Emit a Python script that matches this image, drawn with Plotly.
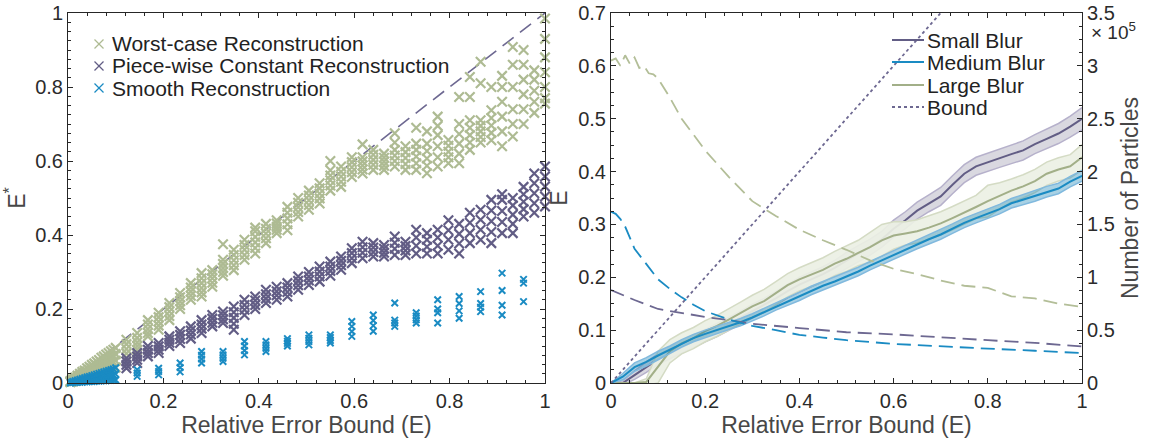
import plotly.graph_objects as go

# ---------------- Left panel data: E* scatter ----------------
dense_x = [0.005, 0.01, 0.015, 0.02, 0.025, 0.03, 0.035, 0.04, 0.045, 0.05,
           0.055, 0.06, 0.065, 0.07, 0.075, 0.08, 0.085, 0.09, 0.095, 0.1]
worst_dense_y = [
    [0.002, 0.004, 0.005], [0.004, 0.007, 0.01], [0.006, 0.009, 0.012, 0.015],
    [0.008, 0.012, 0.016, 0.02], [0.01, 0.015, 0.02, 0.025], [0.012, 0.018, 0.024, 0.03],
    [0.014, 0.021, 0.028, 0.034], [0.017, 0.025, 0.032, 0.04], [0.019, 0.027, 0.036, 0.044],
    [0.021, 0.03, 0.04, 0.049], [0.023, 0.033, 0.043, 0.053], [0.025, 0.036, 0.047, 0.058],
    [0.027, 0.039, 0.051, 0.062], [0.03, 0.042, 0.055, 0.068], [0.032, 0.045, 0.058, 0.072],
    [0.034, 0.048, 0.062, 0.077], [0.036, 0.051, 0.066, 0.081], [0.038, 0.054, 0.07, 0.086],
    [0.04, 0.057, 0.074, 0.09], [0.042, 0.06, 0.078, 0.095]]
smooth_dense_y = [
    [0.0, 0.002], [0.001, 0.004], [0.001, 0.004, 0.006], [0.002, 0.005, 0.008],
    [0.002, 0.006, 0.01], [0.002, 0.007, 0.012], [0.003, 0.008, 0.014], [0.003, 0.01, 0.016],
    [0.004, 0.011, 0.018], [0.004, 0.012, 0.02], [0.004, 0.013, 0.022], [0.005, 0.014, 0.024],
    [0.005, 0.016, 0.026], [0.006, 0.017, 0.028], [0.006, 0.018, 0.03], [0.006, 0.019, 0.032],
    [0.007, 0.02, 0.034], [0.007, 0.021, 0.036], [0.008, 0.022, 0.038], [0.008, 0.024, 0.041]]

cols_x = [0.1225, 0.145, 0.1675, 0.19, 0.2125, 0.235, 0.2575, 0.28, 0.3025, 0.325,
          0.3475, 0.37, 0.3925, 0.415, 0.4375, 0.46, 0.4825, 0.505, 0.5275, 0.55,
          0.5725, 0.595, 0.6175, 0.64, 0.6625, 0.685, 0.7075, 0.73, 0.7525, 0.775,
          0.7975, 0.82, 0.8425, 0.865, 0.8875, 0.91, 0.9325, 0.955, 0.9775, 1.0]
worst_y = [
    [0.068, 0.08, 0.092, 0.105, 0.117], [0.09, 0.1, 0.11, 0.122, 0.135],
    [0.126, 0.135, 0.146, 0.158, 0.17], [0.144, 0.155, 0.166, 0.178, 0.19],
    [0.17, 0.181, 0.193, 0.205, 0.216], [0.2, 0.21, 0.221, 0.232, 0.243],
    [0.225, 0.236, 0.247, 0.258, 0.27], [0.234, 0.245, 0.257, 0.27, 0.283, 0.297],
    [0.26, 0.271, 0.283, 0.294, 0.305], [0.29, 0.3, 0.311, 0.322, 0.333, 0.375],
    [0.305, 0.318, 0.332, 0.346, 0.36], [0.333, 0.346, 0.36, 0.373, 0.387],
    [0.35, 0.365, 0.38, 0.395, 0.41, 0.42], [0.378, 0.391, 0.404, 0.417, 0.43],
    [0.405, 0.414, 0.422, 0.431, 0.44], [0.413, 0.429, 0.445, 0.46, 0.476],
    [0.45, 0.462, 0.475, 0.487, 0.5], [0.468, 0.481, 0.494, 0.507, 0.52],
    [0.485, 0.499, 0.512, 0.526, 0.54], [0.52, 0.534, 0.548, 0.561, 0.575, 0.6],
    [0.53, 0.544, 0.558, 0.571, 0.585], [0.557, 0.57, 0.583, 0.597, 0.61],
    [0.566, 0.577, 0.588, 0.599, 0.61, 0.645], [0.576, 0.59, 0.603, 0.617, 0.63],
    [0.576, 0.587, 0.598, 0.609, 0.62], [0.585, 0.6, 0.615, 0.63, 0.65, 0.675],
    [0.576, 0.592, 0.608, 0.624, 0.64], [0.576, 0.594, 0.612, 0.63, 0.647, 0.69],
    [0.567, 0.587, 0.607, 0.627, 0.647, 0.68], [0.585, 0.61, 0.64, 0.67, 0.695, 0.72],
    [0.594, 0.61, 0.625, 0.641, 0.657], [0.594, 0.62, 0.647, 0.673, 0.7, 0.773],
    [0.63, 0.65, 0.67, 0.69, 0.71, 0.773, 0.827], [0.65, 0.665, 0.68, 0.695, 0.71, 0.81, 0.868],
    [0.656, 0.676, 0.696, 0.716, 0.737, 0.8], [0.64, 0.68, 0.72, 0.76, 0.8, 0.83],
    [0.666, 0.7, 0.74, 0.8, 0.86, 0.908], [0.7, 0.74, 0.78, 0.82, 0.86, 0.9],
    [0.73, 0.76, 0.79, 0.82, 0.845], [0.755, 0.77, 0.8, 0.84, 0.88, 0.93, 0.985]]
piecewise_y = [
    [0.04, 0.049, 0.058, 0.067], [0.054, 0.063, 0.072, 0.081], [0.072, 0.081, 0.09, 0.1],
    [0.081, 0.09, 0.099, 0.108], [0.1, 0.109, 0.117, 0.126], [0.108, 0.119, 0.13, 0.14],
    [0.12, 0.131, 0.142, 0.153], [0.135, 0.147, 0.158, 0.17], [0.153, 0.163, 0.174, 0.184],
    [0.162, 0.172, 0.183, 0.193], [0.144, 0.16, 0.176, 0.191, 0.207], [0.184, 0.198, 0.211, 0.225],
    [0.2, 0.211, 0.223, 0.234], [0.216, 0.228, 0.24, 0.252], [0.225, 0.237, 0.248, 0.26],
    [0.234, 0.246, 0.258, 0.27], [0.252, 0.264, 0.276, 0.288], [0.265, 0.277, 0.288, 0.3],
    [0.274, 0.288, 0.301, 0.315], [0.29, 0.303, 0.315, 0.328], [0.306, 0.318, 0.33, 0.342],
    [0.324, 0.337, 0.351, 0.364], [0.337, 0.352, 0.367, 0.382], [0.342, 0.354, 0.366, 0.378],
    [0.342, 0.352, 0.363, 0.373], [0.346, 0.363, 0.379, 0.396], [0.346, 0.358, 0.37, 0.382],
    [0.35, 0.371, 0.393, 0.414], [0.35, 0.368, 0.387, 0.405], [0.35, 0.371, 0.393, 0.414],
    [0.36, 0.387, 0.413, 0.44], [0.35, 0.377, 0.403, 0.43], [0.378, 0.405, 0.433, 0.46],
    [0.387, 0.414, 0.441, 0.468], [0.378, 0.408, 0.437, 0.466, 0.495],
    [0.405, 0.435, 0.465, 0.495, 0.51], [0.405, 0.43, 0.455, 0.48, 0.5],
    [0.45, 0.47, 0.49, 0.51, 0.53], [0.46, 0.486, 0.513, 0.54, 0.566],
    [0.477, 0.504, 0.531, 0.558, 0.585]]
smooth_x = [0.145, 0.19, 0.235, 0.28, 0.325, 0.37, 0.415, 0.46, 0.505, 0.55,
            0.595, 0.64, 0.685, 0.73, 0.775, 0.82, 0.865, 0.91, 0.955]
smooth_y = [
    [0.018, 0.027, 0.036], [0.022, 0.031, 0.04], [0.03, 0.042, 0.054],
    [0.054, 0.065, 0.075, 0.085], [0.058, 0.067, 0.076, 0.085], [0.076, 0.088, 0.1, 0.112],
    [0.085, 0.094, 0.103, 0.112], [0.1, 0.107, 0.113, 0.12], [0.103, 0.112, 0.121, 0.13],
    [0.108, 0.115, 0.123, 0.13], [0.126, 0.139, 0.153, 0.166], [0.14, 0.155, 0.169, 0.184],
    [0.153, 0.162, 0.17, 0.216], [0.162, 0.171, 0.181, 0.19], [0.162, 0.19, 0.2, 0.225],
    [0.175, 0.195, 0.215, 0.234], [0.193, 0.205, 0.215, 0.247], [0.184, 0.21, 0.25, 0.297],
    [0.22, 0.27, 0.28]]
ref_line_x = [0, 1]
ref_line_y = [0, 1]
left_legend_labels = ["Worst-case Reconstruction", "Piece-wise Constant Reconstruction",
                      "Smooth Reconstruction"]

# ---------------- Right panel data ----------------
blur_x = [0.0, 0.025, 0.05, 0.075, 0.1, 0.125, 0.15, 0.175, 0.2, 0.225, 0.25, 0.275,
          0.3, 0.325, 0.35, 0.375, 0.4, 0.425, 0.45, 0.475, 0.5, 0.525, 0.55, 0.575,
          0.6, 0.625, 0.65, 0.675, 0.7, 0.725, 0.75, 0.775, 0.8, 0.825, 0.85, 0.875,
          0.9, 0.925, 0.95, 0.975, 1.0]
small_mean = [0.0, 0.0, 0.015, 0.03, 0.045, 0.056, 0.068, 0.079, 0.09, 0.1, 0.112, 0.124,
              0.136, 0.147, 0.16, 0.174, 0.186, 0.196, 0.206, 0.218, 0.232, 0.245, 0.257, 0.272,
              0.292, 0.308, 0.326, 0.34, 0.353, 0.375, 0.396, 0.41, 0.418, 0.425, 0.433, 0.44,
              0.452, 0.462, 0.472, 0.485, 0.5]
small_hw = [0.0, 0.004, 0.008, 0.01, 0.01, 0.01, 0.011, 0.011, 0.012, 0.012, 0.012, 0.012,
            0.013, 0.013, 0.013, 0.013, 0.014, 0.014, 0.014, 0.014, 0.015, 0.015, 0.015, 0.015,
            0.016, 0.016, 0.016, 0.016, 0.017, 0.017, 0.017, 0.017, 0.017, 0.017, 0.018, 0.018,
            0.018, 0.018, 0.019, 0.02, 0.021]
medium_mean = [0.0, 0.012, 0.03, 0.04, 0.052, 0.063, 0.075, 0.085, 0.093, 0.1, 0.108, 0.115,
               0.124, 0.134, 0.145, 0.154, 0.164, 0.175, 0.184, 0.192, 0.201, 0.211, 0.222, 0.232,
               0.243, 0.253, 0.262, 0.272, 0.281, 0.292, 0.303, 0.312, 0.32, 0.329, 0.34, 0.347,
               0.354, 0.362, 0.368, 0.381, 0.392]
medium_hw = [0.0, 0.006, 0.008, 0.008, 0.008, 0.007, 0.007, 0.007, 0.007, 0.007, 0.007, 0.007,
             0.007, 0.007, 0.007, 0.007, 0.008, 0.008, 0.008, 0.008, 0.008, 0.008, 0.008, 0.008,
             0.008, 0.008, 0.008, 0.009, 0.009, 0.009, 0.009, 0.009, 0.009, 0.009, 0.009, 0.01,
             0.01, 0.01, 0.01, 0.01, 0.01]
large_mean = [0.0, 0.0, 0.0, 0.002, 0.03, 0.06, 0.075, 0.085, 0.098, 0.108, 0.12, 0.132,
              0.145, 0.155, 0.17, 0.185, 0.196, 0.205, 0.214, 0.226, 0.235, 0.246, 0.257, 0.27,
              0.279, 0.283, 0.287, 0.294, 0.302, 0.312, 0.322, 0.333, 0.344, 0.354, 0.364, 0.372,
              0.382, 0.396, 0.404, 0.41, 0.427]
large_hw = [0.0, 0.0, 0.0, 0.006, 0.03, 0.022, 0.02, 0.02, 0.02, 0.02, 0.02, 0.021,
            0.021, 0.022, 0.022, 0.022, 0.022, 0.023, 0.023, 0.023, 0.024, 0.024, 0.028, 0.03,
            0.026, 0.022, 0.022, 0.022, 0.022, 0.022, 0.022, 0.022, 0.03, 0.025, 0.022, 0.022,
            0.022, 0.022, 0.022, 0.022, 0.024]
bound_x = [0, 0.7]
bound_y = [0, 0.7]

small_px = [0, 0.05, 0.1, 0.15, 0.2, 0.25, 0.3, 0.4, 0.5, 0.6, 0.7, 0.8, 0.9, 1.0]
small_particles = [0.88, 0.785, 0.7, 0.66, 0.625, 0.595, 0.56, 0.52, 0.48, 0.46, 0.43, 0.405, 0.38, 0.345]
medium_px = [0, 0.01, 0.02, 0.03, 0.05, 0.075, 0.1, 0.125, 0.15, 0.175, 0.2, 0.25, 0.3,
             0.35, 0.4, 0.45, 0.5, 0.6, 0.7, 0.8, 0.9, 1.0]
medium_particles = [1.62, 1.6, 1.55, 1.48, 1.27, 1.12, 0.98, 0.89, 0.81, 0.74, 0.68, 0.6, 0.54,
                    0.5, 0.455, 0.43, 0.405, 0.37, 0.345, 0.325, 0.305, 0.283]
large_px = [0, 0.01, 0.02, 0.03, 0.04, 0.05, 0.06, 0.07, 0.08, 0.09, 0.1, 0.125, 0.15, 0.175,
            0.2, 0.25, 0.3, 0.35, 0.4, 0.45, 0.5, 0.55, 0.6, 0.65, 0.7, 0.75, 0.8, 0.85,
            0.9, 0.95, 1.0]
large_particles = [3.05, 3.07, 3.0, 3.1, 3.02, 3.08, 2.98, 3.0, 2.93, 2.92, 2.88, 2.7, 2.5, 2.35,
                   2.2, 1.95, 1.72, 1.58, 1.45, 1.35, 1.26, 1.16, 1.08, 1.03, 0.97, 0.92, 0.9, 0.82,
                   0.8, 0.75, 0.72]
right_legend_labels = ["Small Blur", "Medium Blur", "Large Blur", "Bound"]

# ---------------- Styles ----------------
GREEN = "#aebb93"
PURPLE = "#625d85"
BLUE = "#1a8bc3"
BOUND_C = "#6d6891"
FONT = "Liberation Sans, Arial, Helvetica, sans-serif"
W, H = 1149, 441


def flatten(xs, ys):
    fx, fy = [], []
    for x, col in zip(xs, ys):
        for v in col:
            fx.append(x)
            fy.append(v)
    return fx, fy


fig = go.Figure()

# Left panel
fig.add_trace(go.Scatter(x=ref_line_x, y=ref_line_y, mode="lines",
                         line=dict(color=BOUND_C, width=1.6, dash="14px,8px"),
                         xaxis="x", yaxis="y"))
for name, color, dx, dy, cx, cy, size, lw in [
    (left_legend_labels[0], GREEN, dense_x, worst_dense_y, cols_x, worst_y, 9.5, 2.2),
    (left_legend_labels[1], PURPLE, [], [], cols_x, piecewise_y, 9.5, 2.2),
    (left_legend_labels[2], BLUE, dense_x, smooth_dense_y, smooth_x, smooth_y, 6.5, 2.0),
]:
    x1, y1 = flatten(dx, dy)
    x2, y2 = flatten(cx, cy)
    fig.add_trace(go.Scatter(
        x=x1 + x2, y=y1 + y2, mode="markers", name=name,
        marker=dict(symbol="x-thin-open", size=size, color=color,
                    line=dict(color=color, width=lw)),
        cliponaxis=False, xaxis="x", yaxis="y"))

# Right panel bands & means (drawn: small, large, medium)
bands = {
    "small": (small_mean, small_hw, PURPLE, "#b6b1cb", "rgba(95,90,127,0.24)"),
    "medium": (medium_mean, medium_hw, BLUE, "#80b9de", "rgba(26,135,184,0.38)"),
    "large": (large_mean, large_hw, "#a2af88", "#d4dbc4", "rgba(236,240,228,0.92)"),
}
for key in ["small", "large", "medium"]:
    mean, hw, col, edge, fill = bands[key]
    lo = [m - h for m, h in zip(mean, hw)]
    hi = [m + h for m, h in zip(mean, hw)]
    fig.add_trace(go.Scatter(x=blur_x, y=lo, mode="lines",
                             line=dict(color=edge, width=1.5), xaxis="x2", yaxis="y2"))
    fig.add_trace(go.Scatter(x=blur_x, y=hi, mode="lines", fill="tonexty",
                             fillcolor=fill, line=dict(color=edge, width=1.5),
                             xaxis="x2", yaxis="y2"))
    fig.add_trace(go.Scatter(x=blur_x, y=mean, mode="lines",
                             line=dict(color=col, width=2), xaxis="x2", yaxis="y2"))

fig.add_trace(go.Scatter(x=bound_x, y=bound_y, mode="lines",
                         line=dict(color=BOUND_C, width=1.8, dash="dot"),
                         xaxis="x2", yaxis="y2"))

for px, vals, col in [(small_px, small_particles, BOUND_C),
                      (medium_px, medium_particles, BLUE),
                      (large_px, large_particles, "#b3be98")]:
    fig.add_trace(go.Scatter(x=px, y=vals, mode="lines",
                             line=dict(color=col, width=1.8, dash="14px,7px"),
                             xaxis="x2", yaxis="y3"))

# ---------------- Manual legends (paper coordinates) ----------------
shapes = []
annotations = []
left_rows = [44, 66, 88]
left_cols = [GREEN, PURPLE, BLUE]
for label, py, c in zip(left_legend_labels, left_rows, left_cols):
    cx, r = 99, 4.5
    for sgn in (1, -1):
        shapes.append(dict(type="line", xref="paper", yref="paper",
                           x0=(cx - r) / W, x1=(cx + r) / W,
                           y0=1 - (py - sgn * r) / H, y1=1 - (py + sgn * r) / H,
                           line=dict(color=c, width=1.3)))
    annotations.append(dict(text=label, x=110 / W, y=1 - py / H, xref="paper", yref="paper",
                            xanchor="left", yanchor="middle", showarrow=False,
                            font=dict(size=21, color="#222", family=FONT)))

right_rows = [40, 62, 85, 107]
right_styles = [(PURPLE, "solid"), (BLUE, "solid"), ("#a2af88", "solid"), (BOUND_C, "dot")]
for label, py, (c, d) in zip(right_legend_labels, right_rows, right_styles):
    shapes.append(dict(type="line", xref="paper", yref="paper",
                       x0=892 / W, x1=924 / W, y0=1 - py / H, y1=1 - py / H,
                       line=dict(color=c, width=2 if d == "solid" else 1.8, dash=d)))
    annotations.append(dict(text=label, x=925 / W, y=1 - py / H, xref="paper", yref="paper",
                            xanchor="left", yanchor="middle", showarrow=False,
                            font=dict(size=21, color="#222", family=FONT)))

annotations.append(dict(text="\u00d7 10<sup>5</sup>", x=1089 / W, y=1 - 31 / H,
                        xref="paper", yref="paper", xanchor="left", yanchor="middle",
                        showarrow=False, font=dict(size=19, color="#2b2b2b", family=FONT)))

# ---------------- Layout ----------------
yb = (H - 383) / H
yt = (H - 13) / H
ax_common = dict(showline=True, linecolor="#262626", linewidth=1, ticks="inside",
                 ticklen=5, tickcolor="#262626", showgrid=False, zeroline=False,
                 automargin=False,
                 tickfont=dict(size=20, color="#2b2b2b", family=FONT))
title_font = dict(size=23, color="#474747", family=FONT)
minor_x = dict(dtick=0.04, ticklen=3, ticks="inside", tickcolor="#262626")

fig.update_layout(
    template="none",
    width=W, height=H, margin=dict(l=0, r=0, t=0, b=0, autoexpand=False),
    paper_bgcolor="white", plot_bgcolor="white", showlegend=False,
    font=dict(family=FONT, color="#222"),
    xaxis=dict(domain=[68 / W, 545 / W], range=[0, 1], dtick=0.2, mirror="ticks",
               anchor="y", minor=minor_x,
               title=dict(text="Relative Error Bound (E)", font=title_font, standoff=0),
               **ax_common),
    yaxis=dict(domain=[yb, yt], range=[0, 1], dtick=0.2, mirror="ticks", anchor="x",
               minor=dict(dtick=0.025, ticklen=3, ticks="inside", tickcolor="#262626"),
               title=dict(text="E<sup>*</sup>", font=title_font, standoff=3),
               **ax_common),
    xaxis2=dict(domain=[611 / W, 1082 / W], range=[0, 1], dtick=0.2, mirror="ticks",
                anchor="y2", minor=minor_x,
                title=dict(text="Relative Error Bound (E)", font=title_font, standoff=0),
                **ax_common),
    yaxis2=dict(domain=[yb, yt], range=[0, 0.7], dtick=0.1, anchor="x2",
                minor=dict(dtick=0.025, ticklen=3, ticks="inside", tickcolor="#262626"),
                title=dict(text="E", font=title_font, standoff=4),
                **ax_common),
    yaxis3=dict(range=[0, 3.5], dtick=0.5, overlaying="y2", side="right", anchor="x2",
                minor=dict(dtick=0.125, ticklen=3, ticks="inside", tickcolor="#262626"),
                title=dict(text="Number of Particles", font=title_font, standoff=8),
                **ax_common),
    shapes=shapes,
    annotations=annotations,
)

fig.write_html("out.html", config={"displayModeBar": False},
               post_script="document.body.style.margin='0';document.body.style.overflow='hidden';")
